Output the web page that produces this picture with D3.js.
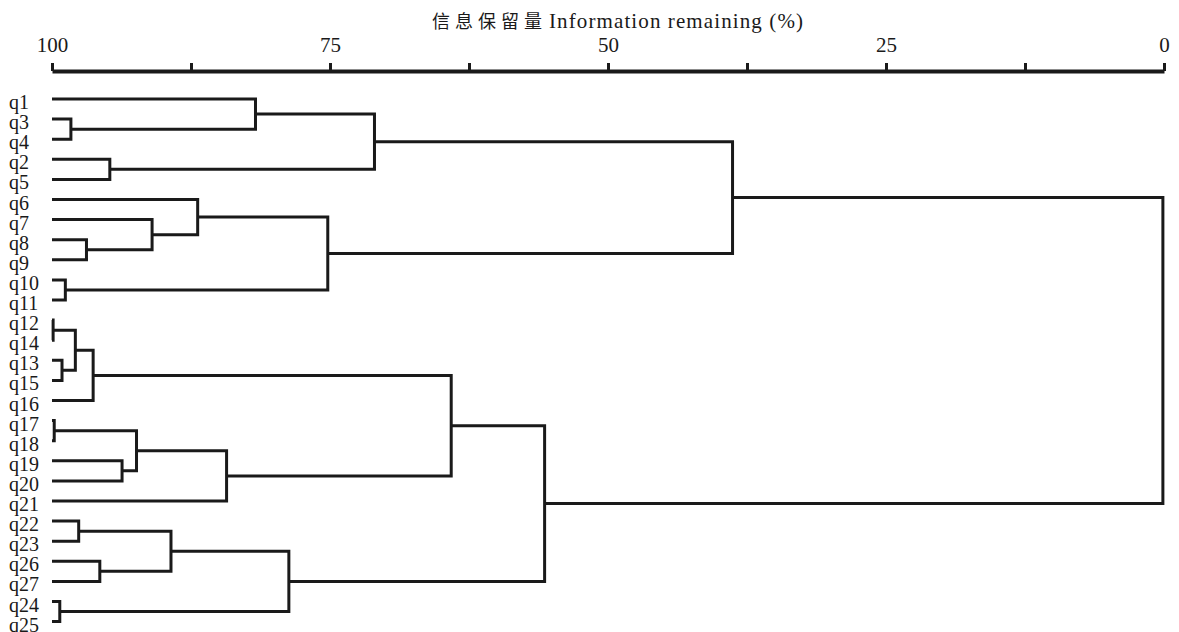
<!DOCTYPE html>
<html>
<head>
<meta charset="utf-8">
<script src="https://cdn.jsdelivr.net/npm/d3@7"></script>
<style>
  html, body { margin: 0; padding: 0; background: #ffffff; }
  svg { display: block; }
</style>
</head>
<body>
<svg id="chart" width="1179" height="632"></svg>
<script>
// Leaf order as drawn top to bottom
const leaves = ["q1","q3","q4","q2","q5","q6","q7","q8","q9","q10","q11",
                "q12","q14","q13","q15","q16","q17","q18","q19","q20","q21",
                "q22","q23","q26","q27","q24","q25"];

// Agglomeration steps: cluster "cN" joins mergeLeft[N-1] and mergeRight[N-1]
// at the information-remaining level mergeHeight[N-1] (%)
const mergeLeft   = ["q3","q1","q2","c2","q8","q7","q6","q10","c7","c4",
                     "q12","q13","c11","c13","q17","q19","c15","c17","c14",
                     "q22","q26","c20","q24","c22","c19","c10"];
const mergeRight  = ["q4","c1","q5","c3","q9","c5","c6","q11","c8","c9",
                     "q14","q15","c12","q16","q18","q20","c16","q21","c18",
                     "q23","q27","c21","q25","c23","c24","c25"];
const mergeHeight = [98.3, 81.7, 94.8, 71.0, 96.9, 91.0, 86.9, 98.8, 75.2, 38.8,
                     99.9, 99.1, 97.9, 96.3, 99.8, 93.7, 92.4, 84.3, 64.1,
                     97.6, 95.7, 89.3, 99.3, 78.7, 55.7, 0.1];

const tickValues = [100, 87.5, 75, 62.5, 50, 37.5, 25, 12.5, 0];
const tickLabels = ["100", "", "75", "", "50", "", "25", "", "0"];

const titleCN = "信息保留量";
const titleEN = "Information remaining (%)";

const svg = d3.select("#chart");

const x = d3.scaleLinear().domain([100, 0]).range([52, 1164]);
const y = d3.scalePoint().domain(leaves).range([99, 621.6]);

// Build the tree from the merge table
const nodes = new Map();
leaves.forEach(name => nodes.set(name, { name, height: 100 }));
mergeLeft.forEach((l, i) => {
  const id = "c" + (i + 1);
  nodes.set(id, { name: id, height: mergeHeight[i], children: [nodes.get(l), nodes.get(mergeRight[i])] });
});
const root = d3.hierarchy(nodes.get("c" + mergeLeft.length));

// Vertical position: leaves on the point scale, clusters midway between their two children
root.eachAfter(d => {
  d.py = d.children ? (d.children[0].py + d.children[1].py) / 2 : y(d.data.name);
  d.px = x(d.data.height);
});

const ink = "#1a1a1a";

// One bracket per merge
svg.append("g")
  .selectAll("path.link")
  .data(root.descendants().filter(d => d.children))
  .join("path")
  .attr("class", "link")
  .attr("fill", "none")
  .attr("stroke", ink)
  .attr("stroke-width", 3)
  .attr("stroke-linejoin", "miter")
  .attr("d", d => {
    const [a, b] = d.children;
    return `M${a.px},${a.py}H${d.px}V${b.py}H${b.px}`;
  });

// Leaf labels
svg.append("g")
  .selectAll("text")
  .data(leaves)
  .join("text")
  .attr("x", 9)
  .attr("y", d => y(d) + 10)
  .attr("font-family", "'Liberation Serif', 'Times New Roman', serif")
  .attr("font-size", 20)
  .attr("fill", ink)
  .text(d => d);

// Top axis
const axis = d3.axisTop(x)
  .tickValues(tickValues)
  .tickSize(8)
  .tickSizeOuter(0)
  .tickFormat((d, i) => tickLabels[i]);

const ax = svg.append("g").attr("transform", "translate(0,71)").call(axis);
ax.select(".domain").attr("stroke", ink).attr("stroke-width", 4);
ax.selectAll(".tick line").attr("stroke", ink).attr("stroke-width", 3);
ax.selectAll(".tick text")
  .attr("y", -19)
  .attr("dy", 0)
  .attr("fill", ink)
  .attr("font-family", "'Liberation Serif', 'Times New Roman', serif")
  .attr("font-size", 21);

// Axis title
const title = svg.append("text")
  .attr("y", 28)
  .attr("fill", ink);
title.append("tspan")
  .attr("x", 432)
  .attr("font-family", "'Noto Sans CJK SC', sans-serif")
  .attr("font-size", 18)
  .attr("letter-spacing", 5)
  .text(titleCN);
title.append("tspan")
  .attr("x", 549)
  .attr("font-family", "'Liberation Serif', 'Times New Roman', serif")
  .attr("font-size", 21)
  .attr("textLength", 254)
  .attr("lengthAdjust", "spacing")
  .text(titleEN);
</script>
</body>
</html>
